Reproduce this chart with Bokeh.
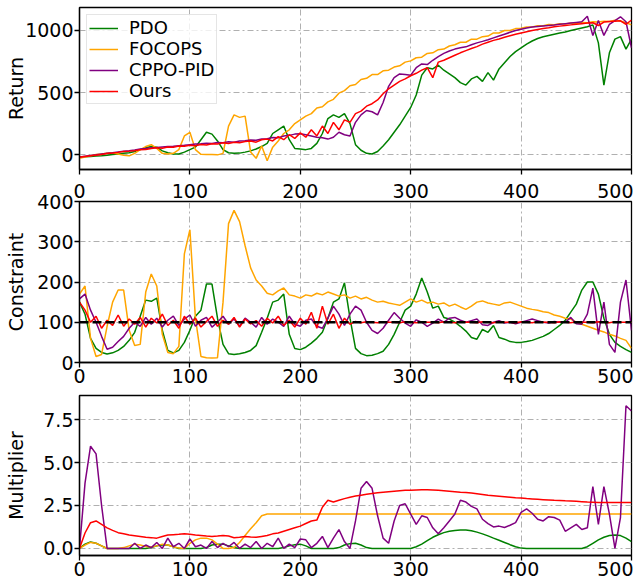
from bokeh.plotting import figure
from bokeh.layouts import column
from bokeh.models import (FixedTicker, PrintfTickFormatter, Range1d, Legend, LegendItem,
                          Span, LinearAxis)
from bokeh.embed import file_html
from bokeh.resources import INLINE

# ---------------- data ----------------
steps = list(range(0, 501, 5))
x_ticks = [0, 100, 200, 300, 400, 500]
series_names = ["PDO", "FOCOPS", "CPPO-PID", "Ours"]
series_colors = ["#008000", "#FFA500", "#800080", "#FF0000"]
constraint_limit = 100

ret_pdo = [-20, -18, -15, -12, -10, -5, 0, 5, 10, 15,
           25, 40, 55, 65, 60, 30, 15, 5, 5, 20,
           40, 60, 120, 180, 165, 110, 40, 15, 10, 12,
           20, 30, 45, 65, 90, 170, 200, 230, 120, 50,
           45, 40, 50, 90, 170, 290, 320, 300, 330, 250,
           80, 35, 10, 5, 25, 70, 120, 180, 240, 310,
           380, 480, 640, 700, 690, 720, 680, 650, 620, 580,
           560, 610, 630, 590, 660, 600, 690, 740, 790, 830,
           860, 890, 915, 935, 950, 960, 970, 980, 988, 1000,
           1010, 1020, 1030, 1045, 900, 560, 820, 930, 950, 850,
           930]
ret_focops = [-30, -20, -10, 0, 5, 10, 12, 5, -5, -10,
              10, 40, 65, 80, 50, 10, 5, 10, 40, 150,
              180, 40, 2, 0, 0, -2, 10, 230, 320, 300,
              310, 20, -30, 70, -50, 60, 110, 170, 200, 250,
              280, 310, 330, 375, 385, 425, 445, 495, 515, 555,
              565, 605, 615, 645, 645, 675, 680, 705, 715, 745,
              755, 780, 785, 815, 820, 845, 850, 875, 885, 905,
              905, 930, 930, 950, 955, 980, 980, 1000, 1000, 1015,
              1018, 1028, 1028, 1038, 1038, 1048, 1046, 1055, 1052, 1060,
              1057, 1065, 1062, 1070, 1068, 1074, 1072, 1082, 1076, 1062,
              1045]
ret_cppo = [-20, -14, -8, -2, 5, 10, 15, 22, 28, 32,
            38, 45, 50, 55, 58, 62, 65, 68, 72, 75,
            80, 85, 88, 92, 90, 98, 95, 104, 100, 110,
            112, 118, 115, 125, 128, 138, 135, 150, 155, 165,
            168, 160, 150, 140, 135, 125, 140, 180, 160, 150,
            260, 320, 355, 345, 320, 420, 550, 620, 650, 645,
            640, 700, 730, 725, 760, 790, 815, 835, 850, 860,
            868, 885, 900, 912, 925, 940, 955, 970, 985, 1000,
            1010, 1020, 1028, 1032, 1036, 1040, 1044, 1050, 1055, 1060,
            1065, 1070, 1115, 960, 1080, 960, 1050, 1080, 1110, 1070,
            860]
ret_ours = [-20, -15, -10, -5, 0, 8, 12, 18, 25, 28,
            32, 40, 42, 50, 55, 52, 62, 60, 70, 68,
            75, 72, 82, 78, 88, 85, 95, 90, 100, 95,
            105, 110, 100, 120, 125, 110, 145, 120, 160, 130,
            175, 140, 200, 150, 230, 170, 260, 200, 280, 260,
            330, 350, 390, 410, 440, 490, 530, 560, 590, 610,
            635, 655, 680, 700, 620, 745, 760, 780, 800, 820,
            838, 855, 870, 890, 905, 920, 932, 945, 958, 970,
            980, 990, 1000, 1008, 1015, 1022, 1030, 1035, 1040, 1045,
            1050, 1055, 1060, 1062, 1040, 1068, 1072, 1075, 1078, 1050,
            1083]

con_pdo = [150, 120, 60, 35, 25, 21, 24, 30, 40, 55,
           75, 115, 155, 152, 160, 80, 30, 24, 30, 50,
           80, 115, 130, 195, 195, 110, 45, 22, 20, 22,
           25, 30, 42, 75, 110, 150, 155, 170, 70, 35,
           32, 38, 48, 60, 75, 110, 150, 158, 198, 110,
           35, 22, 17, 18, 22, 28, 45, 70, 100, 130,
           140, 170, 210, 175, 135, 140, 112, 108, 100, 90,
           78, 62, 58, 82, 75, 92, 62, 58, 52, 50,
           50, 52, 55, 60, 65, 72, 82, 92, 105, 125,
           145, 180, 200, 200, 170, 110, 70, 50, 40, 32,
           25]
con_focops = [170, 190, 60, 15, 20, 90, 150, 180, 180, 80,
              42, 45, 175, 220, 190, 70, 25, 22, 40, 270,
              330, 110, 15, 12, 11, 12, 150, 345, 378, 350,
              290, 235, 205, 190, 172, 168, 178, 185, 168, 165,
              160, 168, 165, 172, 168, 175, 170, 165, 168, 160,
              165, 158, 162, 155, 150, 152, 148, 145, 142, 150,
              158, 150, 155, 148, 150, 145, 148, 140, 145, 138,
              132, 140, 150, 153, 148, 145, 142, 148, 150, 145,
              140, 135, 132, 130, 126, 124, 118, 115, 110, 108,
              100, 95, 90, 85, 80, 76, 70, 66, 60, 55,
              35]
con_cppo = [158, 170, 130, 100, 65, 33, 38, 52, 65, 85,
            100, 90, 112, 95, 110, 88, 105, 115, 92, 108,
            118, 90, 105, 112, 88, 100, 115, 95, 108, 90,
            110, 100, 88, 112, 95, 108, 100, 90, 115, 95,
            90, 105, 108, 90, 85, 110, 140, 120, 92, 120,
            140, 130, 100, 80, 72, 85, 105, 124, 110, 98,
            90, 106, 100, 90, 98, 108, 100, 110, 112, 105,
            100, 104, 108, 94, 92, 100, 104, 98, 100, 96,
            100, 104, 108, 104, 100, 98, 102, 100, 100, 112,
            96, 95, 120, 185, 70, 150, 45, 25, 150, 205,
            80]
con_ours = [150, 130, 100, 115, 85, 105, 92, 118, 90, 108,
            95, 112, 88, 110, 98, 120, 92, 105, 85, 115,
            95, 110, 88, 102, 115, 90, 105, 95, 112, 88,
            108, 96, 104, 90, 110, 98, 115, 92, 105, 88,
            110, 95, 125, 85, 140, 95, 120, 85, 110, 95,
            102, 99, 101, 100, 99, 101, 100, 100, 99, 101,
            100, 99, 101, 100, 100, 99, 101, 100, 99, 101,
            100, 100, 99, 101, 100, 99, 101, 100, 100, 99,
            101, 100, 99, 101, 100, 100, 99, 101, 100, 99,
            101, 100, 100, 99, 101, 100, 99, 101, 100, 100,
            100]

mul_pdo = [0, 0.25, 0.38, 0.3, 0.15, 0, 0, 0, 0, 0,
           0, 0, 0, 0.05, 0.15, 0.2, 0.2, 0.1, 0, 0,
           0, 0, 0, 0.05, 0.2, 0.25, 0.25, 0.15, 0.05, 0,
           0, 0, 0, 0, 0, 0, 0, 0.05, 0.15, 0.22,
           0.25, 0.15, 0, 0, 0, 0, 0, 0.05, 0.2, 0.28,
           0.3, 0.2, 0.05, 0, 0, 0, 0, 0, 0, 0,
           0, 0.1, 0.25, 0.45, 0.65, 0.8, 0.92, 1.0, 1.05, 1.07,
           1.07, 1.03, 0.95, 0.85, 0.73, 0.6, 0.48, 0.35, 0.22, 0.1,
           0.02, 0, 0, 0, 0, 0, 0, 0, 0, 0,
           0, 0, 0.1, 0.3, 0.5, 0.65, 0.75, 0.78, 0.75, 0.6,
           0.4]
mul_focops = [0, 0.2, 0.35, 0.3, 0.15, 0, 0, 0, 0.05, 0.15,
              0.25, 0.2, 0.12, 0.08, 0.15, 0.25, 0.2, 0.1, 0.02, 0,
              0.3, 0.5, 0.6, 0.6, 0.5, 0.25, 0, 0, 0.05, 0.35,
              0.75, 1.15, 1.5, 1.9, 2.0, 2.0, 2.0, 2.0, 2.0, 2.0,
              2.0, 2.0, 2.0, 2.0, 2.0, 2.0, 2.0, 2.0, 2.0, 2.0,
              2.0, 2.0, 2.0, 2.0, 2.0, 2.0, 2.0, 2.0, 2.0, 2.0,
              2.0, 2.0, 2.0, 2.0, 2.0, 2.0, 2.0, 2.0, 2.0, 2.0,
              2.0, 2.0, 2.0, 2.0, 2.0, 2.0, 2.0, 2.0, 2.0, 2.0,
              2.0, 2.0, 2.0, 2.0, 2.0, 2.0, 2.0, 2.0, 2.0, 2.0,
              2.0, 2.0, 2.0, 2.0, 2.0, 2.0, 2.0, 2.0, 2.0, 2.0,
              2.0]
mul_cppo = [0, 3.8, 5.95, 5.5, 2.5, 0, 0, 0, 0, 0,
            0.3, 0, 0.2, 0.05, 0.35, 0, 0.6, 0.1, 0.3, 0,
            0.55, 0.1, 0.2, 0, 0.4, 0.05, 0.3, 0.1, 0.35, 0,
            0.25, 0.05, 0.4, 0, 0.3, 0.1, 0.6, 0, 0.25, 0.05,
            0.55, 0.5, 0.05, 0.3, 0.7, 0.05, 0.6, 1.1, 0.4, 0,
            1.6, 3.5, 3.9, 3.5, 1.9, 0.6, 0.3, 1.6, 2.5, 2.6,
            2.0, 1.4, 1.9, 1.8, 1.2, 0.85, 1.2, 1.6, 2.0, 2.8,
            2.7, 2.45, 2.3, 1.7, 1.45, 1.25, 1.3, 1.22, 1.35, 1.5,
            2.1, 2.3, 2.05, 1.7, 1.6, 1.85, 1.8, 1.65, 1.0, 1.2,
            1.4, 1.1, 1.2, 3.6, 1.4, 3.6, 2.0, 0, 1.8, 8.3,
            8.0]
mul_ours = [0, 0.9, 1.5, 1.6, 1.4, 1.2, 1.05, 0.92, 0.85, 0.78,
            0.74, 0.7, 0.65, 0.63, 0.6, 0.7, 0.78, 0.8, 0.82, 0.85,
            0.82, 0.78, 0.75, 0.72, 0.7, 0.72, 0.75, 0.72, 0.62, 0.65,
            0.7, 0.66, 0.65, 0.7, 0.75, 0.85, 0.9, 1.0, 1.1, 1.2,
            1.3, 1.45, 1.6, 1.65, 2.4, 2.8, 2.7, 2.8, 2.9, 2.98,
            3.05, 3.1, 3.15, 3.2, 3.24, 3.27, 3.3, 3.33, 3.36, 3.38,
            3.39, 3.4, 3.41, 3.41, 3.4, 3.38, 3.36, 3.33, 3.3, 3.27,
            3.25, 3.22, 3.18, 3.14, 3.1, 3.07, 3.04, 3.01, 2.98, 2.95,
            2.93, 2.9, 2.88, 2.86, 2.84, 2.82, 2.8, 2.79, 2.77, 2.76,
            2.74, 2.72, 2.7, 2.69, 2.68, 2.68, 2.68, 2.68, 2.68, 2.68,
            2.68]

ret_ticks = [0, 500, 1000]
con_ticks = [0, 100, 200, 300, 400]
mul_ticks = [0, 2.5, 5.0, 7.5]

# ---------------- styling ----------------
FONT = "DejaVu Sans"
FS = "19px"
W = 633


def style_axis(ax):
    ax.major_label_text_font = FONT
    ax.major_label_text_font_size = FS
    ax.major_label_text_color = "black"
    ax.major_tick_out = 5
    ax.major_tick_in = 0
    ax.minor_tick_out = 0
    ax.minor_tick_in = 0
    ax.major_tick_line_width = 1.3
    ax.major_tick_line_color = "black"
    ax.axis_line_width = 1.3
    ax.axis_line_color = "black"
    ax.major_label_standoff = 1


def make_fig(height, yr, top, bottom, ylabel, yticks, label_standoff, show_xlabels):
    p = figure(width=W, height=height, x_range=Range1d(0, 500), y_range=Range1d(*yr),
               output_backend="svg", toolbar_location=None, sizing_mode="fixed",
               min_border_left=79, min_border_right=2,
               min_border_top=top, min_border_bottom=bottom)
    p.background_fill_color = "white"
    p.border_fill_color = "white"
    p.outline_line_color = "black"
    p.outline_line_width = 1.3
    p.outline_line_alpha = 1.0
    style_axis(p.xaxis[0])
    style_axis(p.yaxis[0])
    if show_xlabels:
        p.xaxis.ticker = FixedTicker(ticks=x_ticks)
    else:
        # tick marks only (as minor ticks, which carry no labels)
        p.xaxis.ticker = FixedTicker(ticks=[], minor_ticks=x_ticks)
        p.xaxis.minor_tick_out = 5
        p.xaxis.minor_tick_line_width = 1.3
        p.xaxis.minor_tick_line_color = "black"
        p.xaxis.major_label_standoff = 0
        p.xgrid.ticker = FixedTicker(ticks=x_ticks)
    p.yaxis.ticker = FixedTicker(ticks=yticks)
    p.yaxis.axis_label = ylabel
    p.yaxis.axis_label_text_font = FONT
    p.yaxis.axis_label_text_font_size = FS
    p.yaxis.axis_label_text_font_style = "normal"
    p.yaxis.axis_label_text_color = "black"
    p.yaxis.axis_label_standoff = label_standoff
    p.grid.grid_line_color = "#b0b0b0"
    p.grid.grid_line_width = 1
    p.grid.grid_line_dash = "6 3 2 3"
    return p


def add_label_strip(p, standoff):
    """x tick labels of the panel above, drawn in this panel's top border"""
    ax = LinearAxis(ticker=FixedTicker(ticks=x_ticks))
    ax.major_label_text_font = FONT
    ax.major_label_text_font_size = FS
    ax.major_label_text_color = "black"
    ax.major_tick_out = 0
    ax.major_tick_in = 0
    ax.minor_tick_out = 0
    ax.minor_tick_in = 0
    ax.axis_line_color = None
    ax.major_tick_line_color = None
    ax.minor_tick_line_color = None
    ax.major_label_standoff = standoff
    p.add_layout(ax, "above")


p1 = make_fig(175, (-120, 1185), 7, 6, "Return", ret_ticks, -5, False)
p2 = make_fig(215, (0, 400), 26, 28, "Constraint", con_ticks, 7, True)
p3 = make_fig(193, (-0.41, 8.9), 5, 28, "Multiplier", mul_ticks, 13, True)
p3.yaxis.formatter = PrintfTickFormatter(format="%.1f")
add_label_strip(p2, 4)

LW = 1.5
rets = [ret_pdo, ret_focops, ret_cppo, ret_ours]
cons = [con_pdo, con_focops, con_cppo, con_ours]
muls = [mul_pdo, mul_focops, mul_cppo, mul_ours]

items = []
for name, col, r, c, m in zip(series_names, series_colors, rets, cons, muls):
    rr = p1.line(steps, r, line_color=col, line_width=LW)
    p2.line(steps, c, line_color=col, line_width=LW)
    p3.line(steps, m, line_color=col, line_width=LW)
    items.append(LegendItem(label=name, renderers=[rr]))

p2.add_layout(Span(location=constraint_limit, dimension="width", line_color="black",
                   line_width=2.5, line_dash="9 4"))

legend = Legend(items=items, location="top_left")
legend.label_text_font = FONT
legend.label_text_font_size = "18px"
legend.label_text_color = "black"
legend.glyph_width = 29
legend.glyph_height = 18
legend.label_height = 18
legend.label_standoff = 11
legend.spacing = 0
legend.padding = 2
legend.margin = 7
legend.border_line_color = "#cccccc"
legend.border_line_width = 1
legend.background_fill_color = "white"
legend.background_fill_alpha = 0.8
p1.add_layout(legend)

layout = column(p1, p2, p3, spacing=0, sizing_mode="fixed", width=W)
open("out.html", "w").write(file_html(layout, INLINE))
